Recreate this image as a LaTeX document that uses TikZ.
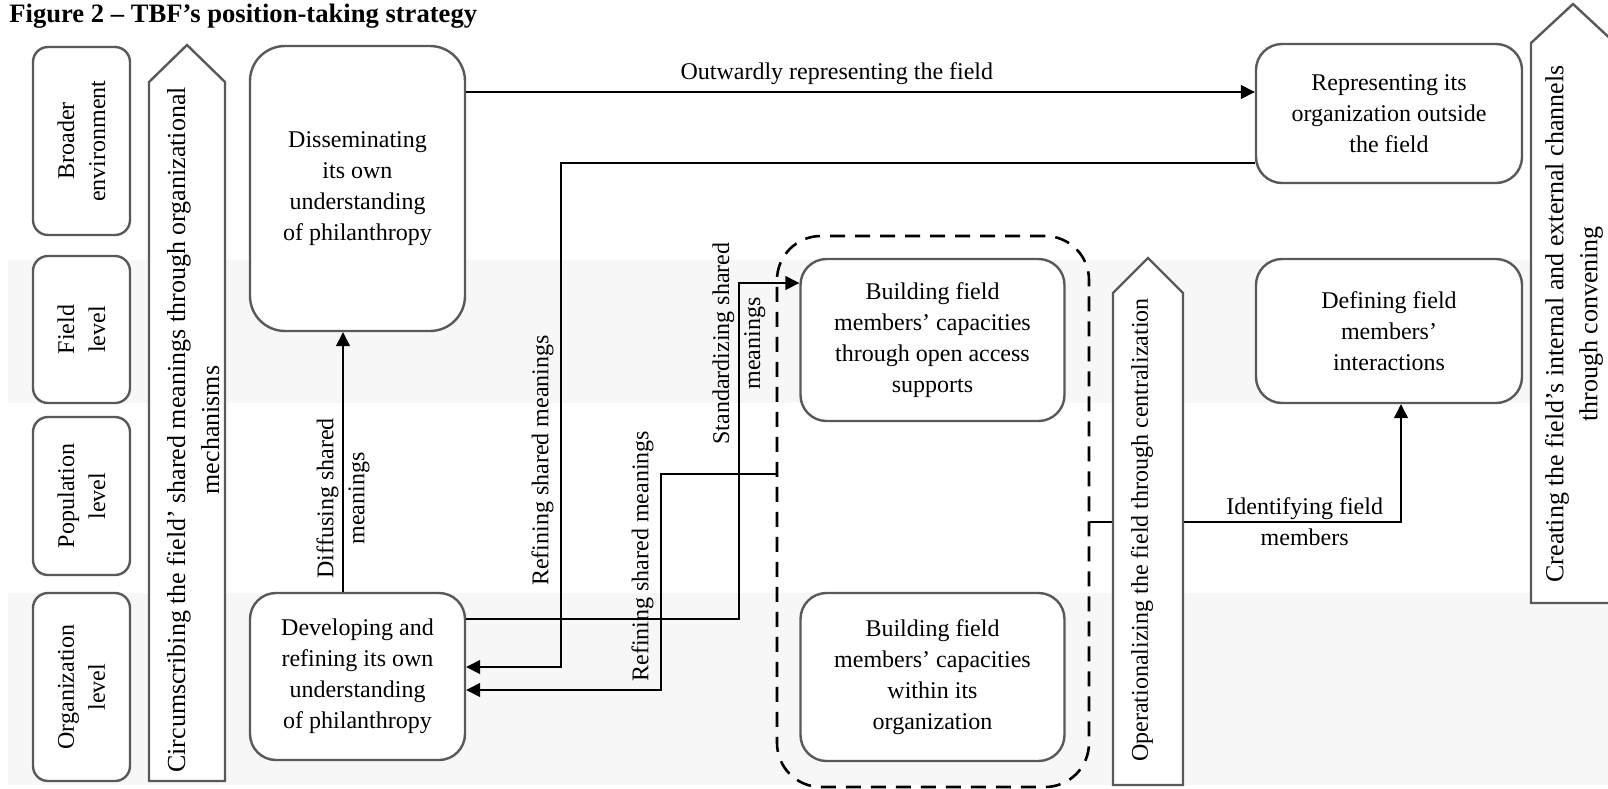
\documentclass[tikz,border=0pt]{standalone}
\usepackage{fontspec}
\setmainfont{Liberation Serif}
\usetikzlibrary{arrows.meta, positioning}

\definecolor{boxgray}{RGB}{89,89,89}
\definecolor{bandgray}{RGB}{247,247,247}

\tikzset{
  conn/.style={-{Triangle[length=7pt,width=7pt]}, line width=0.7pt},
  stage/.style={draw=boxgray, line width=1.2pt, fill=white, rounded corners=13pt},
  level/.style={stage, rounded corners=7.5pt, rotate=90, minimum height=48.5pt},
  bigarrow/.style={draw=boxgray, line width=1.2pt, fill=white},
  bigtext/.style={rotate=90, font=\fontsize{13}{17}\selectfont},
  cluster/.style={draw, line width=1.3pt, dash pattern=on 7.5pt off 5pt, rounded corners=22pt},
}

\begin{document}
\begin{tikzpicture}[
    x=0.5pt, y=-0.5pt,
    every node/.style={font=\fontsize{12}{15.5}\selectfont, align=center}
]
\useasboundingbox (0,0) rectangle (1608,788);

% --- Level bands ---
\fill[bandgray] (8,260) rectangle (1608,403);
\fill[bandgray] (8,593) rectangle (1608,785);

% --- Title ---
\node[anchor=base west, inner sep=0, font=\bfseries\fontsize{13.3}{15}\selectfont] (title) at (9,22) {Figure 2 -- TBF's position-taking strategy};

% --- Levels ---
\node[level, minimum width=94pt] (broader) at (81.5,141) {Broader\\environment};
\node[level, minimum width=73.5pt] (fieldlvl) at (81.5,329.5) {Field\\level};
\node[level, minimum width=79pt] (poplvl) at (81.5,496) {Population\\level};
\node[level, minimum width=94pt] (orglvl) at (81.5,687) {Organization\\level};

% --- Stages ---
\node[stage, rounded corners=17.5pt, minimum width=107.5pt, minimum height=142.5pt] (dissem) at (357.5,188.5) {Disseminating\\its own\\understanding\\of philanthropy};
\node[stage, minimum width=107.5pt, minimum height=83.5pt] (develop) at (357.5,676.5) {Developing and\\refining its own\\understanding\\of philanthropy};
\node[stage, minimum width=133pt, minimum height=69.5pt] (repr) at (1389,113.5) {Representing its\\organization outside\\the field};
\node[stage, minimum width=132pt, minimum height=81pt] (buildopen) at (932.5,340) {Building field\\members' capacities\\through open access\\supports};
\node[stage, minimum width=132pt, minimum height=84pt] (buildwithin) at (932.5,677) {Building field\\members' capacities\\within its\\organization};
\node[stage, minimum width=133pt, minimum height=72pt] (defining) at (1389,331) {Defining field\\members'\\interactions};
\node[cluster, minimum width=156pt, minimum height=275.5pt] (cluster) at (933,511.5) {};

% --- Connectors ---
\coordinate (outrow) at (0,92);
\draw[conn] (dissem.east |- outrow) -- node[pos=.47, above] {Outwardly representing the field} (repr.west |- outrow);

\coordinate (refAtop) at (561,163);
\coordinate (refAbot) at (561,667);
\draw[conn] (repr.west |- refAtop) -- (refAtop) -- node[pos=.59, rotate=90, above] {Refining shared meanings} (refAbot) -- (develop.east |- refAbot);

\coordinate (stdlow) at (739,619);
\coordinate (stdhigh) at (739,283);
\draw[conn] (develop.east |- stdlow) -- (stdlow) -- node[pos=.82, rotate=90] {Standardizing shared\\meanings} (stdhigh) -- (buildopen.west |- stdhigh);

\coordinate (refBtop) at (661,474);
\coordinate (refBbot) at (661,690);
\draw[conn] (cluster.west |- refBtop) -- (refBtop) -- node[pos=.38, rotate=90, above] {Refining shared meanings} (refBbot) -- (develop.east |- refBbot);

\coordinate (diffcol) at (343,0);
\draw[conn] (develop.north -| diffcol) -- node[pos=.36, rotate=90] {Diffusing shared\\meanings} (dissem.south -| diffcol);

\coordinate (idturn) at (1401,522);
\draw[conn] (cluster.east |- idturn) -- node[pos=.69] {Identifying field\\members} (idturn) -- (defining.south -| idturn);

% --- Mechanisms ---
\draw[bigarrow] (149,781) -- (149,82) -- (187,45) -- (225,82) -- (225,781) -- cycle;
\node[bigtext] (circtext) at (193,430) {Circumscribing the field' shared meanings through organizational\\mechanisms};

\draw[bigarrow] (1113,785) -- (1113,293) -- (1148,258) -- (1183,293) -- (1183,785) -- cycle;
\node[rotate=90] (opertext) at (1142,530) {Operationalizing the field through centralization};

\draw[bigarrow] (1531,603) -- (1531,43) -- (1573,4) -- (1615,43) -- (1615,603) -- cycle;
\node[bigtext] (creattext) at (1574,324) {Creating the field's internal and external channels\\through convening};

\end{tikzpicture}
\end{document}
